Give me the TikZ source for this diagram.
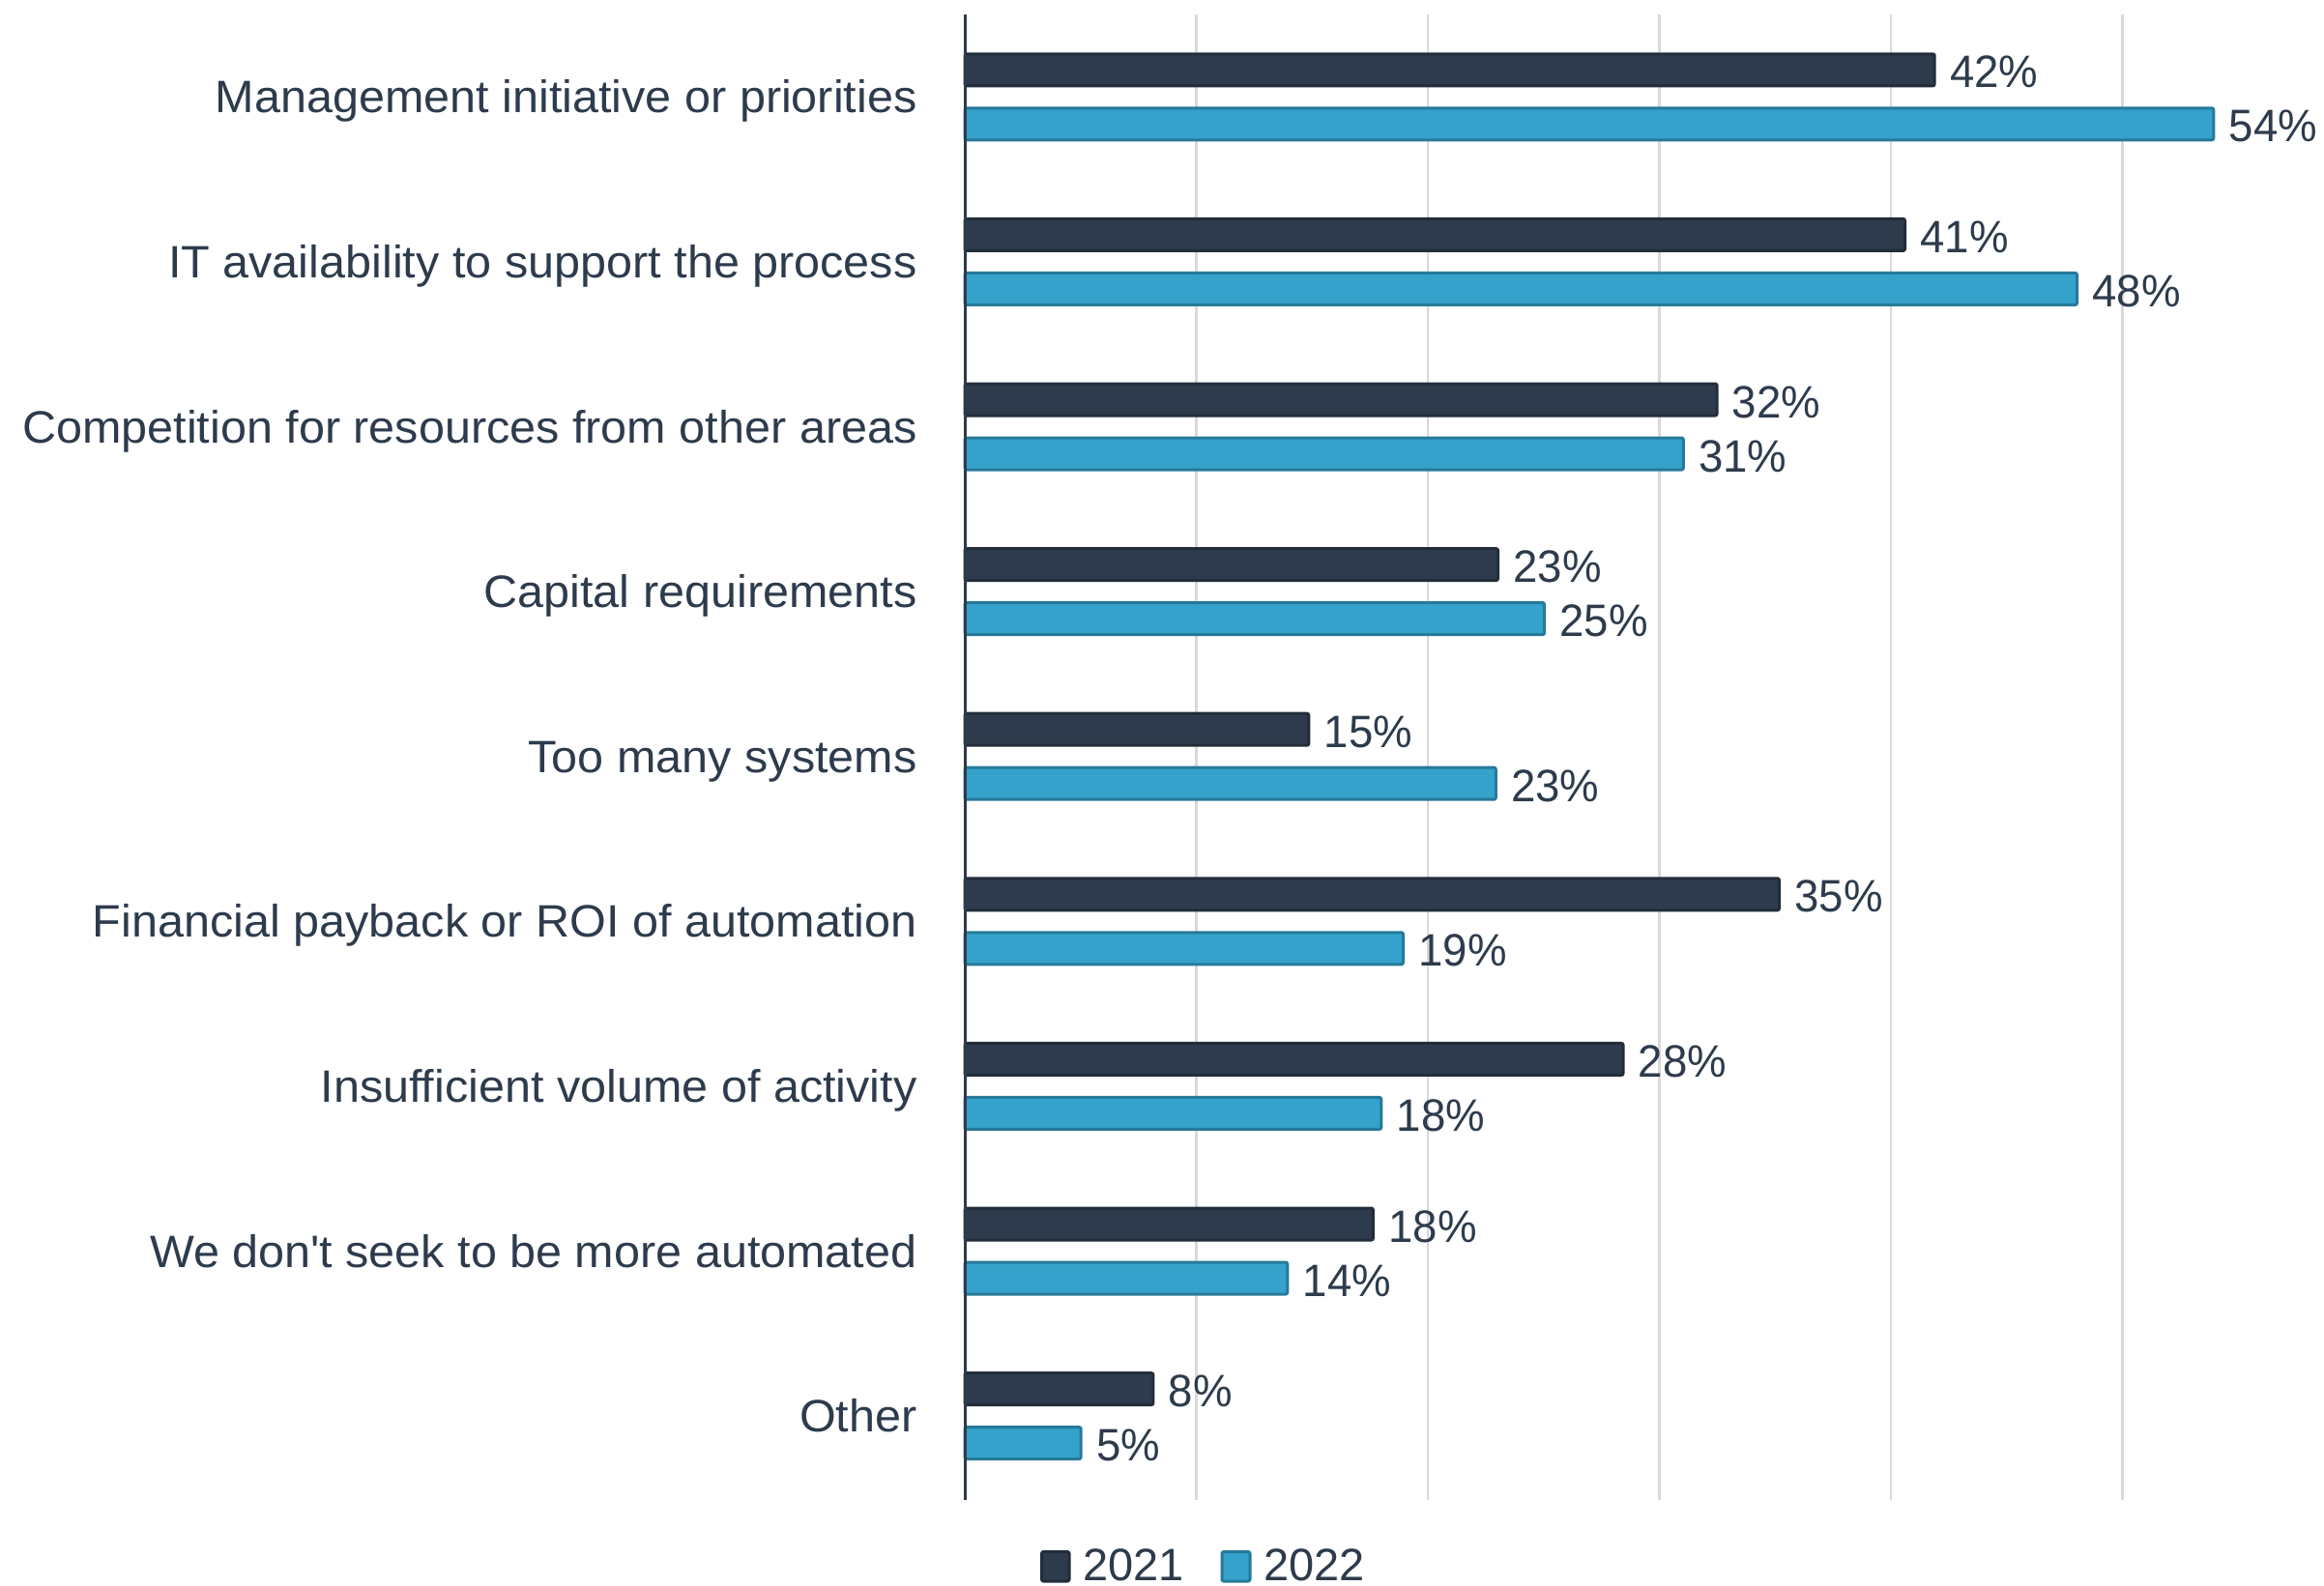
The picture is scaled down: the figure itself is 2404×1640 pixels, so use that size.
\documentclass[tikz,border=0pt]{standalone}
\usepackage{fontspec}
\setmainfont{Liberation Sans}
\newfontfamily\labfont{Liberation Sans}[FakeStretch=1.033]
\newfontfamily\valfont{Liberation Sans}[FakeStretch=0.97]
\definecolor{txt}{HTML}{2D3B4C}
\definecolor{darkfill}{HTML}{2D3B4C}
\definecolor{darkline}{HTML}{222D39}
\definecolor{bluefill}{HTML}{35A2CB}
\definecolor{blueline}{HTML}{267A99}
\definecolor{grid}{HTML}{D9D9D9}
\tikzset{
  gridline/.style={draw=grid, line width=1.25pt},
  axisline/.style={draw=txt, line width=1.5pt},
  bara/.style={fill=darkfill, draw=darkline, line width=1.5pt, rounded corners=1pt},
  barb/.style={fill=bluefill, draw=blueline, line width=1.5pt, rounded corners=1pt},
  catlabel/.style={anchor=base east, inner sep=0pt, text=txt, font=\labfont\fontsize{23.5}{28}\selectfont},
  vallabel/.style={anchor=base west, inner sep=0pt, text=txt, font=\valfont\fontsize{23.5}{28}\selectfont},
  legtext/.style={anchor=base west, inner sep=0pt, text depth=0pt, text=txt, font=\fontsize{23.5}{28}\selectfont},
}
\begin{document}
\begin{tikzpicture}[x=0.5pt, y=-0.5pt]
\useasboundingbox (0,0) rectangle (2404,1640);
% gridlines
\foreach \k in {1,...,5} {
  \draw[gridline] ({998+239.5*\k},15) -- ({998+239.5*\k},1552);
}
% bars and labels: label / 2021 / 2022 / 2021 length / 2022 length
\foreach \lab/\a/\b/\la/\lb [count=\i from 0] in {
  Management initiative or priorities/42/54/41.95/54.0,
  IT availability to support the process/41/48/40.67/48.1,
  Competition for resources from other areas/32/31/32.55/31.1,
  Capital requirements/23/25/23.09/25.1,
  Too many systems/15/23/14.92/23.0,
  Financial payback or ROI of automation/35/19/35.24/19.0,
  Insufficient volume of activity/28/18/28.5/18.05,
  We don\textquotesingle t seek to be more automated/18/14/17.7/14.0,
  Other/8/5/8.2/5.08} {
  \pgfmathsetmacro{\cy}{15+170.6*(\i+0.5)}
  \pgfmathsetmacro{\xa}{998+23.95*\la}
  \pgfmathsetmacro{\xb}{998+23.95*\lb}
  \node[catlabel] (cat\i) at (949,{\cy+16.5}) {\lab};
  \draw[bara] (998,{\cy-28-16.5}) rectangle ({\xa-1.5},{\cy-28+16.5});
  \draw[barb] (998,{\cy+28-16.5}) rectangle ({\xb-1.5},{\cy+28+16.5});
  \node[vallabel] (va\i) at ({\xa+14},{\cy-28+18.5}) {\a\%};
  \node[vallabel] (vb\i) at ({\xb+14},{\cy+28+18.5}) {\b\%};
}
% axis
\draw[axisline] (998,15) -- (998,1552);
% legend
\draw[bara] (1077.5,1605.5) rectangle (1106,1636);
\node[legtext] (l1) at (1120,1635) {2021};
\draw[barb] (1264,1605.5) rectangle (1293,1636);
\node[legtext] (l2) at (1307,1635) {2022};
\end{tikzpicture}
\end{document}
